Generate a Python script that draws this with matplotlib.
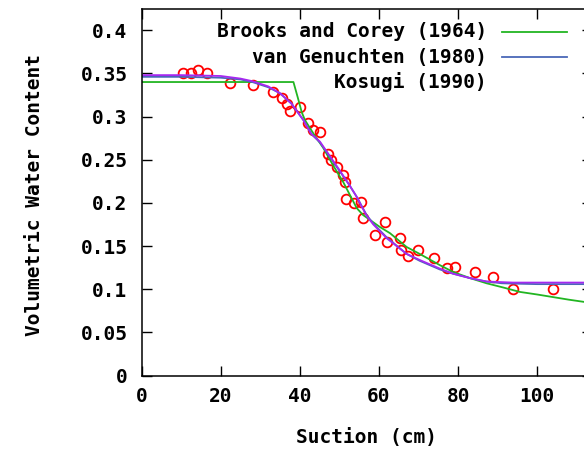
import matplotlib
matplotlib.use('Agg')
import matplotlib.pyplot as plt
from matplotlib.lines import Line2D

# measured points (suction cm, volumetric water content)
suction_obs = [10.5, 12.6, 14.3, 16.5, 22.4, 28.2, 33.3, 35.4, 36.7, 37.5, 40.0,
               42.1, 43.4, 45.1, 47.2, 48.0, 49.3, 51.0, 51.4, 51.6, 53.7, 55.4,
               56.0, 59.0, 61.5, 62.0, 65.3, 65.7, 67.4, 69.9, 73.9, 77.1, 79.2,
               84.3, 88.9, 93.9, 104.0]
theta_obs = [0.350, 0.350, 0.354, 0.350, 0.339, 0.336, 0.329, 0.321, 0.315, 0.307, 0.311,
             0.292, 0.285, 0.282, 0.257, 0.250, 0.242, 0.232, 0.224, 0.204, 0.200, 0.201,
             0.183, 0.163, 0.178, 0.155, 0.159, 0.145, 0.138, 0.145, 0.136, 0.125, 0.126,
             0.120, 0.114, 0.100, 0.100]

# fitted curves
bc_x = [0, 38.4, 39.5, 40.5, 41.3, 43.5, 45.9, 48.5, 51.0, 54.4, 56.0, 60.3, 62.8,
        67.0, 70.3, 75.4, 78.8, 83.0, 87.2, 91.5, 95.6, 100, 104, 108, 111.6, 114]
bc_y = [0.340, 0.340, 0.322, 0.305, 0.296, 0.280, 0.264, 0.243, 0.224, 0.194, 0.186, 0.172, 0.165,
        0.149, 0.141, 0.128, 0.120, 0.113, 0.107, 0.102, 0.097, 0.094, 0.091, 0.088, 0.0856, 0.084]

vg_x = [0, 10, 20, 25, 28, 32, 35, 37.9, 40.9, 42.9, 45.1, 47.5, 50.2, 52.5, 54.4, 56.9,
        58.6, 62, 67.0, 70.3, 75.4, 78.8, 83, 87.2, 91, 95, 100, 105, 110, 114]
vg_y = [0.346, 0.346, 0.345, 0.343, 0.340, 0.334, 0.327, 0.315, 0.296, 0.280, 0.270, 0.254,
        0.236, 0.221, 0.207, 0.186, 0.176, 0.160, 0.141, 0.133, 0.123, 0.118, 0.113, 0.109,
        0.107, 0.1065, 0.106, 0.106, 0.106, 0.106]

ks_x = [0, 10, 20, 25, 28, 32, 35, 37.9, 40.9, 42.9, 45.1, 47.5, 50.2, 52.5, 54.4, 56.9,
        58.6, 62, 67.0, 70.3, 75.4, 78.8, 83, 87.2, 90, 93.9, 100, 105, 110, 114]
ks_y = [0.348, 0.348, 0.347, 0.344, 0.341, 0.335, 0.327, 0.315, 0.296, 0.280, 0.271, 0.255,
        0.237, 0.221, 0.207, 0.185, 0.175, 0.159, 0.141, 0.134, 0.124, 0.118, 0.113, 0.109,
        0.1085, 0.1078, 0.1078, 0.1078, 0.1078, 0.1078]

legend_labels = ['Brooks and Corey (1964)', 'van Genuchten (1980)', 'Kosugi (1990)']
x_ticks = [0, 20, 40, 60, 80, 100]
y_ticks = [0, 0.05, 0.1, 0.15, 0.2, 0.25, 0.3, 0.35, 0.4]
y_ticklabels = ['0', '0.05', '0.1', '0.15', '0.2', '0.25', '0.3', '0.35', '0.4']

c_bc, c_vg, c_ks = '#22b522', '#4a68b8', '#a628f0'
font = dict(family='DejaVu Sans Mono', weight='bold', size=14)

fig = plt.figure(figsize=(5.84, 4.51), dpi=100)
ax = fig.add_axes([0.2423, 0.167, 0.771, 0.812])

ax.plot(suction_obs, theta_obs, 'o', ls='none', mfc='none', mec='#ff0000', ms=7, mew=1.3)
ax.plot(bc_x, bc_y, color=c_bc, lw=1.3)
ax.plot(vg_x, vg_y, color=c_vg, lw=1.3)
ax.plot(ks_x, ks_y, color=c_ks, lw=1.3)

ax.set_xlim(0, 113.8)
ax.set_ylim(0, 0.424)
ax.set_xticks(x_ticks)
ax.set_xticklabels([str(t) for t in x_ticks], **font)
ax.set_yticks(y_ticks)
ax.set_yticklabels(y_ticklabels, **font)
ax.tick_params(direction='in', length=7, width=1, top=True, right=True)
ax.tick_params(axis='y', pad=10)
ax.tick_params(axis='x', pad=8)
for s in ax.spines.values():
    s.set_linewidth(1.1)

fig.text(35 / 584, 1 - 195 / 451, 'Volumetric Water Content', rotation=90,
         ha='center', va='center', **font)
fig.text(366 / 584, 1 - 438 / 451, 'Suction (cm)', ha='center', va='center', **font)

# gnuplot style key: text then sample
key_rows = [31.7, 57.0, 81.7]
key_colors = [c_bc, c_vg, None]
for lab, yy, col in zip(legend_labels, key_rows, key_colors):
    fy = 1 - yy / 451
    fig.text(487 / 584, fy, lab, ha='right', va='center', **font)
    if col:
        fig.add_artist(Line2D([502 / 584, 567 / 584], [fy, fy], color=col, lw=1.3,
                              transform=fig.transFigure))

fig.savefig('out.png', dpi=100)
